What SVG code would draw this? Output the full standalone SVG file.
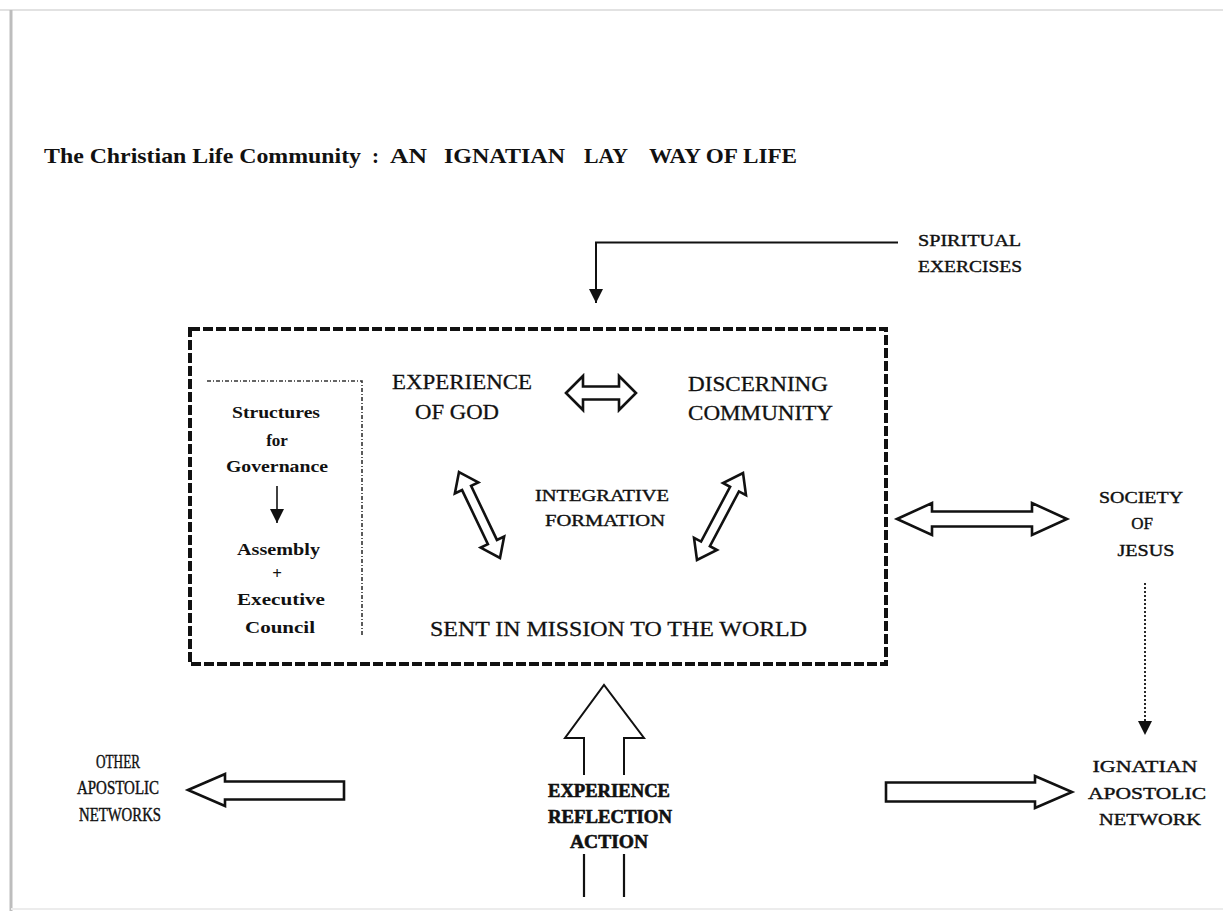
<svg xmlns="http://www.w3.org/2000/svg" width="1223" height="911" viewBox="0 0 1223 911">
<defs>
<style>
.t{font-family:"Liberation Serif",serif;fill:#111;}
.title{font-size:21px;font-weight:bold;}
.lbl{font-size:22px;stroke:#111;stroke-width:0.3;}
.med{font-size:17px;stroke:#111;stroke-width:0.4;}
.sm{font-size:18px;stroke:#111;stroke-width:0.4;}
.gov{font-size:17px;font-weight:bold;}
.heavy{font-size:18px;font-weight:bold;stroke:#111;stroke-width:0.6;}
.hollow{fill:#fff;stroke:#111;stroke-width:2.6;stroke-linejoin:miter;}
.line{fill:none;stroke:#111;stroke-width:2;}
</style>
<marker id="triL" viewBox="0 0 10 10" refX="10" refY="5" markerWidth="14" markerHeight="14" markerUnits="userSpaceOnUse" orient="auto">
<path d="M0,0 L10,5 L0,10 Z" fill="#111"/>
</marker>
</defs>
<rect x="0" y="0" width="1223" height="911" fill="#fff"/>
<g id="page">
<line x1="0" y1="10" x2="1223" y2="10" stroke="#e2e2e2" stroke-width="2"/>
<line x1="11" y1="10" x2="11" y2="911" stroke="#bdbdbd" stroke-width="3"/>
<line x1="11" y1="909" x2="1223" y2="909" stroke="#ececec" stroke-width="2"/>
</g>
<g id="title">
<text class="t title" x="44" y="163" textLength="317" lengthAdjust="spacingAndGlyphs">The Christian Life Community</text>
<text class="t title" x="372" y="163">:</text>
<text class="t title" x="390" y="163" textLength="37" lengthAdjust="spacingAndGlyphs">AN</text>
<text class="t title" x="444" y="163" textLength="121" lengthAdjust="spacingAndGlyphs">IGNATIAN</text>
<text class="t title" x="584" y="163" textLength="44" lengthAdjust="spacingAndGlyphs">LAY</text>
<text class="t title" x="649" y="163" textLength="148" lengthAdjust="spacingAndGlyphs">WAY OF LIFE</text>
</g>
<g id="spiritual-exercises">
<text class="t med" x="918" y="246" textLength="103" lengthAdjust="spacingAndGlyphs">SPIRITUAL</text>
<text class="t med" x="918" y="272" textLength="104" lengthAdjust="spacingAndGlyphs">EXERCISES</text>
</g>
<g id="clc-box">
<rect x="190" y="329" width="696" height="335" fill="none" stroke="#111" stroke-width="4" stroke-dasharray="10 3"/>
</g>
<g id="governance">
<path d="M207,381 H362 V637" fill="none" stroke="#333" stroke-width="1.6" stroke-dasharray="4 2 1 2"/>
<text class="t gov" x="232" y="418" textLength="88" lengthAdjust="spacingAndGlyphs">Structures</text>
<text class="t gov" x="277" y="446" text-anchor="middle">for</text>
<text class="t gov" x="226" y="472" textLength="102" lengthAdjust="spacingAndGlyphs">Governance</text>
<line x1="277" y1="486" x2="277" y2="523" stroke="#111" stroke-width="1.6" marker-end="url(#triL)"/>
<text class="t gov" x="237" y="555" textLength="83" lengthAdjust="spacingAndGlyphs">Assembly</text>
<text class="t gov" x="277" y="579" text-anchor="middle">+</text>
<text class="t gov" x="237" y="605" textLength="88" lengthAdjust="spacingAndGlyphs">Executive</text>
<text class="t gov" x="245" y="633" textLength="70" lengthAdjust="spacingAndGlyphs">Council</text>
</g>
<g id="experience-of-god">
<text class="t lbl" x="392" y="389" textLength="140" lengthAdjust="spacingAndGlyphs">EXPERIENCE</text>
<text class="t lbl" x="415" y="419" textLength="84" lengthAdjust="spacingAndGlyphs">OF GOD</text>
</g>
<g id="discerning-community">
<text class="t lbl" x="688" y="391" textLength="140" lengthAdjust="spacingAndGlyphs">DISCERNING</text>
<text class="t lbl" x="688" y="420" textLength="145" lengthAdjust="spacingAndGlyphs">COMMUNITY</text>
</g>
<g id="integrative-formation">
<text class="t med" x="535" y="501" textLength="134" lengthAdjust="spacingAndGlyphs">INTEGRATIVE</text>
<text class="t med" x="545" y="526" textLength="120" lengthAdjust="spacingAndGlyphs">FORMATION</text>
</g>
<g id="sent-in-mission">
<text class="t lbl" x="430" y="636" textLength="377" lengthAdjust="spacingAndGlyphs">SENT IN MISSION TO THE WORLD</text>
</g>
<g id="society-of-jesus">
<text class="t med" x="1141" y="503" text-anchor="middle" textLength="84" lengthAdjust="spacingAndGlyphs">SOCIETY</text>
<text class="t med" x="1142" y="529" text-anchor="middle">OF</text>
<text class="t med" x="1146" y="556" text-anchor="middle" textLength="57" lengthAdjust="spacingAndGlyphs">JESUS</text>
</g>
<g id="ignatian-apostolic-network">
<text class="t med" x="1145" y="772" text-anchor="middle" textLength="105" lengthAdjust="spacingAndGlyphs">IGNATIAN</text>
<text class="t med" x="1147" y="799" text-anchor="middle" textLength="118" lengthAdjust="spacingAndGlyphs">APOSTOLIC</text>
<text class="t med" x="1150" y="825" text-anchor="middle" textLength="102" lengthAdjust="spacingAndGlyphs">NETWORK</text>
</g>
<g id="other-apostolic-networks">
<text class="t sm" x="118" y="768" text-anchor="middle" textLength="44" lengthAdjust="spacingAndGlyphs">OTHER</text>
<text class="t sm" x="118" y="794" text-anchor="middle" textLength="82" lengthAdjust="spacingAndGlyphs">APOSTOLIC</text>
<text class="t sm" x="120" y="821" text-anchor="middle" textLength="82" lengthAdjust="spacingAndGlyphs">NETWORKS</text>
</g>
<g id="experience-reflection-action">
<text class="t heavy" x="609" y="797" text-anchor="middle" textLength="122" lengthAdjust="spacingAndGlyphs">EXPERIENCE</text>
<text class="t heavy" x="610" y="823" text-anchor="middle" textLength="124" lengthAdjust="spacingAndGlyphs">REFLECTION</text>
<text class="t heavy" x="609" y="848" text-anchor="middle" textLength="78" lengthAdjust="spacingAndGlyphs">ACTION</text>
</g>
<g id="connectors">
<path class="line" d="M898,242.5 H596 V303" marker-end="url(#triL)"/>
<polygon class="hollow" points="566,393 583,376 583,386.5 619,386.5 619,376 636,393 619,410 619,399.5 583,399.5 583,410"/>
<polygon class="hollow" transform="translate(479.5,515) rotate(64.5)" points="-47.6,0 -30,-13 -30,-5 30,-5 30,-13 47.6,0 30,13 30,5 -30,5 -30,13"/>
<polygon class="hollow" transform="translate(720,516.5) rotate(117.9)" points="-49.2,0 -31,-13 -31,-5 31,-5 31,-13 49.2,0 31,13 31,5 -31,5 -31,13"/>
<polygon class="hollow" points="897,519 932,503 932,511.5 1032,511.5 1032,503 1067,519 1032,535 1032,526.5 932,526.5 932,535"/>
<line x1="1145" y1="583" x2="1145" y2="735" stroke="#111" stroke-width="1.8" stroke-dasharray="2 2" marker-end="url(#triL)"/>
<polygon class="hollow" points="188,790 225,774 225,781.5 344,781.5 344,799.5 225,799.5 225,806"/>
<polygon class="hollow" points="886,782.5 1035,782.5 1035,776 1072,792 1035,808 1035,801.5 886,801.5"/>
<path class="line" d="M584,775 V738 H565 L604,685 L644,738 H624 V775" stroke-width="2.2"/>
<line x1="584" y1="854" x2="584" y2="897" stroke="#111" stroke-width="2.2"/>
<line x1="624" y1="854" x2="624" y2="897" stroke="#111" stroke-width="2.2"/>
</g>
</svg>
